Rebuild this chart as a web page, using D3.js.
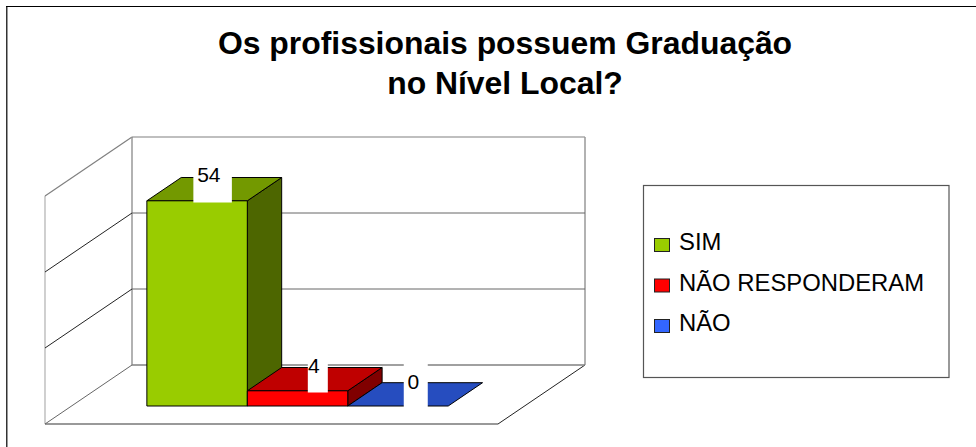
<!DOCTYPE html>
<html><head><meta charset="utf-8">
<style>html,body{margin:0;padding:0;background:#fff}svg{display:block}text{font-family:"Liberation Sans",Arial,sans-serif;fill:#000}</style>
<script src="https://cdn.jsdelivr.net/npm/d3@7/dist/d3.min.js"></script>
</head><body><svg id="c" width="976" height="447"></svg>
<script>
const titleLines = ["Os profissionais possuem Graduação", "no Nível Local?"];
const categories = ["SIM", "NÃO RESPONDERAM", "NÃO"];
const values = [54, 4, 0];
const yTicks = [0, 20, 40, 60];

const colors = {front:["#99cc00","#ff0000","#3366ff"], top:["#739900","#bf0000","#264dbf"], side:["#4d6600","#800000","#1a3380"]};
const svg = d3.select("#c");

// 3D projection: depth d in 0..1 shifts a front-plane point up and to the right
const wall = {dx:87, dy:-59};
const x = d3.scaleBand().domain(categories).range([45,497]).paddingInner(0).paddingOuter(0.75);
const y = d3.scaleLinear().domain([0,60]).range([424,196]);
const P = (px,py,d)=>[px+d*wall.dx, py+d*wall.dy];
const barD = [0.305,0.7];
const poly = (pts,fill,stroke,sw)=>svg.append("path").attr("d",d3.line()(pts)+"Z").attr("fill",fill).attr("stroke",stroke).attr("stroke-width",sw).attr("stroke-linejoin","miter");
const seg = (a,b,stroke,sw)=>svg.append("path").attr("d",d3.line()([a,b])).attr("fill","none").attr("stroke",stroke).attr("stroke-width",sw);

// outer frame: top and left edges only, the rest falls outside the picture
svg.append("path").attr("d","M6.75,447V6.5").attr("fill","none").attr("stroke","#333").attr("stroke-width",1.5);
svg.append("path").attr("d","M6,6.5H976").attr("fill","none").attr("stroke","#000").attr("stroke-width",1);

// title
svg.selectAll("text.t").data(titleLines).join("text").attr("class","t")
  .attr("x",505).attr("y",(d,i)=>54+i*39.5).attr("text-anchor","middle")
  .attr("font-size",31.9).attr("font-weight","bold").text(d=>d);

// walls
const [x0,x1]=[45,498];
const v0=yTicks[0], vN=yTicks[yTicks.length-1];
seg(P(x0,y(v0),0),P(x0,y(vN),0),"#b0b0b0",1.2);
seg(P(x0,y(vN),0),P(x0,y(vN),1),"#808080",1.2);
seg(P(x0,y(vN),1),P(x0,y(v0),1),"#999",1.5);
seg(P(x0,y(vN),1),P(x1,y(vN),1),"#808080",1.2);
seg(P(x1,y(vN),1),P(x1,y(v0),1),"#999",1.5);
seg(P(x0,y(v0),0),P(x1,y(v0),0),"#777",1.5);
seg(P(x1,y(v0),0),P(x1,y(v0),1),"#222",1);
seg(P(x0,y(v0),0),P(x0,y(v0),1),"#666",1);
yTicks.slice(1,-1).forEach(t=>{
  seg(P(x0,y(t),0),P(x0,y(t),1),"#222",1);
  seg(P(x0,y(t),1),P(x1,y(t),1),"#666",1);
});
seg(P(x0,y(v0),1),P(x1,y(v0),1),"#808080",1.5);

// bars, left to right so each one overlaps the previous side face
categories.forEach((c,i)=>{
  const l=x(c), r=l+x.bandwidth(), b=y(0), t=y(values[i]);
  const [d0,d1]=barD;
  if(values[i]>0){
    poly([P(r,b,d0),P(r,b,d1),P(r,t,d1),P(r,t,d0)],colors.side[i],"#000",1);
    poly([P(l,t,d0),P(r,t,d0),P(r,t,d1),P(l,t,d1)],colors.top[i],"#000",1);
    poly([P(l,b,d0),P(r,b,d0),P(r,t,d0),P(l,t,d0)],colors.front[i],"#000",1);
  } else {
    poly([P(l,t,d0),P(r,t,d0),P(r,t,d1),P(l,t,d1)],colors.top[i],"#000",1);
  }
});

// data labels with white boxes, placed relative to the bar's front-top-left corner
const labelBox = {w:[38.5,20,24], h:44, left:[46.5,60.5,56], below:1.7};
const labelText = {dx:[62,66.5,65.5], dy:[-19,-18.3,-17.3]};
values.forEach((v,i)=>{
  const [fx,fy]=P(x(categories[i]),y(v),barD[0]);
  svg.append("rect").attr("x",fx+labelBox.left[i]).attr("y",fy+labelBox.below-labelBox.h)
    .attr("width",labelBox.w[i]).attr("height",labelBox.h).attr("fill","#fff");
  svg.append("text").attr("x",fx+labelText.dx[i]).attr("y",fy+labelText.dy[i]).attr("text-anchor","middle").attr("font-size",21).text(v);
});

// legend
svg.append("rect").attr("x",643.5).attr("y",185.5).attr("width",305.5).attr("height",192).attr("fill","#fff").attr("stroke","#555").attr("stroke-width",1.2);
categories.forEach((c,i)=>{
  const ty=250+i*40.5;
  svg.append("rect").attr("x",654.5).attr("y",ty-11.5).attr("width",15).attr("height",13).attr("fill",colors.front[i]).attr("stroke","#222").attr("stroke-width",1);
  svg.append("text").attr("x",679).attr("y",ty).attr("font-size",23.85).text(c);
});
</script></body></html>
